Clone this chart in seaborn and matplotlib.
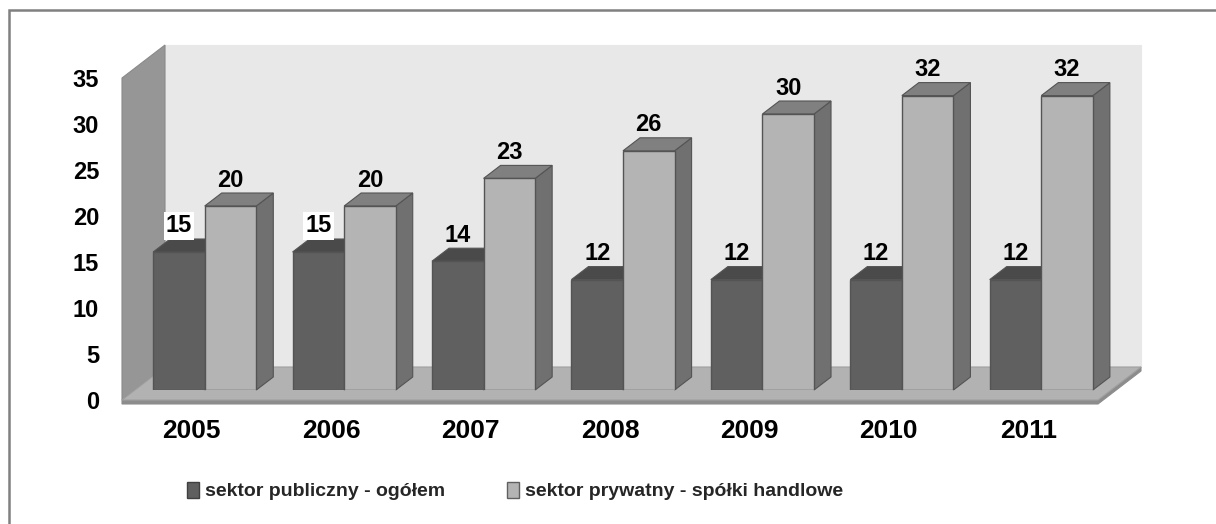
import matplotlib
matplotlib.use("Agg")
import matplotlib.pyplot as plt
import matplotlib.transforms as mtransforms
from matplotlib import font_manager
from matplotlib.patches import Polygon, Rectangle, Patch
import pandas as pd
import seaborn as sns

years = ["2005", "2006", "2007", "2008", "2009", "2010", "2011"]
publiczny = [15, 15, 14, 12, 12, 12, 12]
prywatny = [20, 20, 23, 26, 30, 32, 32]
series = ["sektor publiczny - ogółem", "sektor prywatny - spółki handlowe"]

DARK, DARK_TOP, DARK_SIDE = "#606060", "#4a4a4a", "#484848"
LIGHT, LIGHT_TOP, LIGHT_SIDE = "#b4b4b4", "#808080", "#707070"
EDGE = "#545454"

df = pd.DataFrame({
    "rok": years * 2,
    "wartosc": publiczny + prywatny,
    "sektor": [series[0]] * len(years) + [series[1]] * len(years),
})

sns.set_theme(style="white")
plt.rcParams["font.family"] = ["Liberation Sans", "DejaVu Sans"]
plt.rcParams["font.weight"] = "bold"

installed = {f.name for f in font_manager.fontManager.ttflist}
if "Liberation Sans Narrow" in installed:
    legend_font = dict(family=["Liberation Sans Narrow", "Liberation Sans"], size=16, weight="bold")
else:
    legend_font = dict(family=["Liberation Sans", "DejaVu Sans"], size=14, weight="bold")

W, H = 1216, 524
fig = plt.figure(figsize=(W / 100, H / 100), dpi=100)
ax = fig.add_axes([135 / W, 134 / H, 976 / W, 322 / H])
ax.patch.set_visible(False)
for s in ax.spines.values():
    s.set_visible(False)

sns.barplot(data=df, x="rok", y="wartosc", hue="sektor", palette=[DARK, LIGHT],
            width=0.74, saturation=1, edgecolor=EDGE, linewidth=1,
            legend=False, ax=ax)
ax.set_xlim(-0.5, 6.5)
ax.set_ylim(0, 35)
ax.set_xlabel("")
ax.set_ylabel("")

bars = list(ax.patches)

# pixel offsets (display coords, y up)
FRONT = (-13, -10)   # front plane of walls / axis labels
BACK = (30, 23)      # back wall
DEPTH = (17, 13)     # bar depth
ident = mtransforms.IdentityTransform()


def disp(x, y, off=(0, 0)):
    X, Y = ax.transData.transform((x, y))
    return (X + off[0], Y + off[1])


def poly(pts, fc, ec, z, lw=0.8):
    ax.add_patch(Polygon(pts, closed=True, facecolor=fc, edgecolor=ec, lw=lw,
                         transform=ident, zorder=z, clip_on=False))


x0, x1 = -0.5, 6.5
# back wall
poly([disp(x0, 0, BACK), disp(x1, 0, BACK), disp(x1, 35, BACK), disp(x0, 35, BACK)],
     "#e8e8e8", "#e8e8e8", 0.1)
# left wall
poly([disp(x0, 0, FRONT), disp(x0, 35, FRONT), disp(x0, 35, BACK), disp(x0, 0, BACK)],
     "#969696", "#8a8a8a", 0.2)
# floor with thickness
fl, fr = disp(x0, 0, FRONT), disp(x1, 0, FRONT)
bl, br = disp(x0, 0, BACK), disp(x1, 0, BACK)
t = 4
poly([(fl[0], fl[1] - t), (fr[0], fr[1] - t), (br[0], br[1] - t), br, (fr[0], fr[1]), fl],
     "#8c8c8c", "#8c8c8c", 0.2)
poly([fl, fr, br, bl], "#b2b2b2", "#a0a0a0", 0.3)

# 3d faces for bars
for b in bars:
    x, y, w, h = b.get_x(), b.get_y(), b.get_width(), b.get_height()
    is_dark = matplotlib.colors.to_hex(b.get_facecolor()) == DARK
    top_c = DARK_TOP if is_dark else LIGHT_TOP
    side_c = DARK_SIDE if is_dark else LIGHT_SIDE
    poly([disp(x + w, y), disp(x + w, y + h), disp(x + w, y + h, DEPTH), disp(x + w, y, DEPTH)],
         side_c, EDGE, 1)
    poly([disp(x, y + h), disp(x + w, y + h), disp(x + w, y + h, DEPTH), disp(x, y + h, DEPTH)],
         top_c, EDGE, 1)
    b.set_zorder(3)
    # the first two labels of the public sector sit on a white box in the original
    box = dict(facecolor="white", edgecolor="none", pad=1.5) if is_dark and x + w / 2 < 1.5 else None
    ax.annotate(f"{h:.0f}", (x + w / 2, h), xytext=(0, 26 * 0.72), textcoords="offset points",
                ha="center", va="center", fontsize=17, fontweight="bold", color="black",
                zorder=5, bbox=box)

# axis ticks on the front plane
ax.set_yticks(range(0, 36, 5))
ax.tick_params(axis="both", length=0, labelsize=17, colors="black")
ax.tick_params(axis="x", labelsize=19, pad=14)
ax.tick_params(axis="y", pad=16.5)
shift = mtransforms.ScaledTranslation(FRONT[0] / 100, FRONT[1] / 100, fig.dpi_scale_trans)
for lab in ax.get_yticklabels() + ax.get_xticklabels():
    lab.set_transform(lab.get_transform() + shift)
    lab.set_fontweight("bold")

# legend
handles = [Patch(facecolor=DARK, edgecolor="#404040", label=series[0]),
           Patch(facecolor=LIGHT, edgecolor="#606060", label=series[1])]
fig.legend(handles=handles, loc="center", bbox_to_anchor=(515 / W, 33 / H), ncol=2,
           frameon=False, prop=legend_font, handlelength=0.6, handleheight=0.9,
           handletextpad=0.3, columnspacing=3.2, borderaxespad=0)

# outer frame, cut off at right and bottom
fig.patches.append(Rectangle((8.5 / W, -0.2), 2, (H - 9.5) / H + 0.2, transform=fig.transFigure,
                             fill=False, edgecolor="#808080", lw=1.8))

fig.savefig("out.png", dpi=100)
